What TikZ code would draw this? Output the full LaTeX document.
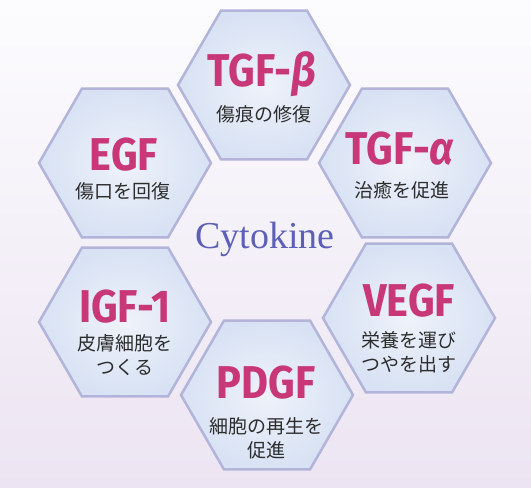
\documentclass[tikz,border=0pt]{standalone}
\usepackage{fontspec}
\setmainfont{Liberation Serif}
\newfontfamily\titlefont[FakeStretch=0.9]{Fira Sans}
\newfontfamily\jpfont{Noto Sans CJK JP}
\usetikzlibrary{shapes.geometric}
\definecolor{bgtop}{RGB}{252,252,254}
\definecolor{bgbottom}{RGB}{236,228,242}
\definecolor{hexedge}{RGB}{178,180,218}
\definecolor{hexin}{RGB}{238,242,250}
\definecolor{hexfill}{RGB}{216,226,244}
\definecolor{titlepink}{RGB}{200,55,120}
\definecolor{cytoblue}{RGB}{92,96,182}
\definecolor{jpgray}{RGB}{45,45,45}

\begin{document}
\begin{tikzpicture}[x=1pt,y=-1pt]
    \tikzstyle{hexa}=[regular polygon,regular polygon sides=6,minimum size=172pt,inner sep=0pt,draw=hexedge,line width=2.5pt,inner color=hexin,outer color=hexfill]
    \tikzstyle{factor}=[anchor=base,inner sep=0pt,text=titlepink,font=\titlefont\bfseries\fontsize{46}{46}\selectfont]
    \tikzstyle{effect}=[align=center,inner sep=0pt,text=jpgray,font=\jpfont\fontsize{19}{24}\selectfont]
    \useasboundingbox (0,0) rectangle (531,488);
    \fill [top color=bgtop,bottom color=bgbottom] (0,0) rectangle (531,488);
    \node (tgfb) at (264,85)  [hexa] {};
    \node (egf)  at (125,163) [hexa] {};
    \node (tgfa) at (405,163) [hexa] {};
    \node (igf)  at (125,322) [hexa] {};
    \node (vegf) at (409,318) [hexa] {};
    \node (pdgf) at (267,395) [hexa] {};
    \node (tgfbN) at (262,86)  [factor] {TGF-{\itshape β}};
    \node (egfN)  at (124,170) [factor] {EGF};
    \node (tgfaN) at (400,164) [factor] {TGF-{\itshape α}};
    \node (igfN)  at (125,322) [factor] {IGF-1};
    \node (vegfN) at (409,316) [factor] {VEGF};
    \node (pdgfN) at (266,398) [factor] {PDGF};
    \node (tgfbR) at (264,114) [effect] {傷痕の修復};
    \node (egfR)  at (123,191) [effect] {傷口を回復};
    \node (tgfaR) at (402,190) [effect] {治癒を促進};
    \node (igfR)  at (125,355) [effect] {皮膚細胞を\\つくる};
    \node (vegfR) at (409,352) [effect] {栄養を運び\\つやを出す};
    \node (pdgfR) at (266,438) [effect] {細胞の再生を\\促進};
    \node (cyto) at (265,248) [anchor=base,text=cytoblue,font=\fontsize{38}{38}\selectfont] {Cytokine};
\end{tikzpicture}
\end{document}
